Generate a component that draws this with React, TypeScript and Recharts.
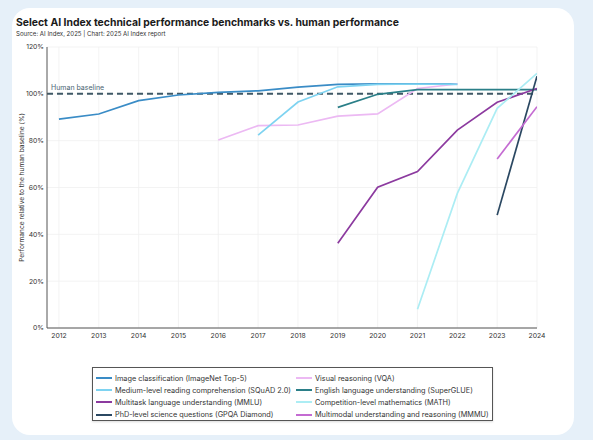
import React from 'react';
import { LineChart, Line, XAxis, YAxis, CartesianGrid, ReferenceLine } from 'recharts';

const years = [2012, 2013, 2014, 2015, 2016, 2017, 2018, 2019, 2020, 2021, 2022, 2023, 2024];
const yTicks = [0, 20, 40, 60, 80, 100, 120];

// values in % of human baseline, aligned with `years` (null = no data)
const imageNet = [89.2, 91.4, 97.1, 99.5, 100.6, 101.3, 102.9, 104.0, 104.3, 104.3, 104.2, null, null];
const vqa = [null, null, null, null, 80.3, 86.4, 86.7, 90.5, 91.4, 102.3, 104.2, null, null];
const squad = [null, null, null, null, null, 82.4, 96.5, 103.0, 104.0, 104.2, 104.0, null, null];
const superGlue = [null, null, null, null, null, null, null, 94.2, 99.8, 101.8, 101.8, 101.8, 101.8];
const mmlu = [null, null, null, null, null, null, null, 36.2, 60.1, 66.8, 84.5, 96.4, 102.3];
const mathBench = [null, null, null, null, null, null, null, null, null, 8.0, 57.5, 93.8, 108.7];
const gpqa = [null, null, null, null, null, null, null, null, null, null, null, 48.2, 107.5];
const mmmu = [null, null, null, null, null, null, null, null, null, null, null, 72.2, 94.5];

const seriesNames = [
  'Image classification (ImageNet Top-5)',
  'Visual reasoning (VQA)',
  'Medium-level reading comprehension (SQuAD 2.0)',
  'English language understanding (SuperGLUE)',
  'Multitask language understanding (MMLU)',
  'Competition-level mathematics (MATH)',
  'PhD-level science questions (GPQA Diamond)',
  'Multimodal understanding and reasoning (MMMU)',
];
const seriesValues = [imageNet, vqa, squad, superGlue, mmlu, mathBench, gpqa, mmmu];
const seriesColors = ['#3a8cc6', '#ecb9f3', '#7ed3f1', '#2b7f88', '#8c3a9f', '#acedf4', '#2b4862', '#c46bd2'];
const seriesKeys = ['imageNet', 'vqa', 'squad', 'superGlue', 'mmlu', 'math', 'gpqa', 'mmmu'];

// legend order: column 1 then column 2
const legendOrder = [0, 2, 4, 6, 1, 3, 5, 7];

const data = years.map((year, i) => {
  const row: Record<string, number | null> = { year };
  seriesKeys.forEach((k, s) => {
    row[k] = seriesValues[s][i];
  });
  return row;
});

const FONT = 'Inter, "Noto Sans", sans-serif';

export default function App() {
  return (
    <div style={{ position: 'absolute', left: 0, top: 0, width: 593, height: 440, background: '#e6f0f9', overflow: 'hidden', fontFamily: FONT }}>
      <div style={{ position: 'absolute', left: 12, top: 8, width: 562, height: 427, background: '#ffffff', borderRadius: 18 }} />
      <div style={{ position: 'absolute', left: 16, top: 16, fontSize: 10.4, fontWeight: 700, color: '#1a1a1a', whiteSpace: 'nowrap', lineHeight: '13px' }}>
        Select AI Index technical performance benchmarks vs. human performance
      </div>
      <div style={{ position: 'absolute', left: 16, top: 30, fontSize: 6.1, color: '#333', whiteSpace: 'nowrap', lineHeight: '7px' }}>
        Source: AI Index, 2025 | Chart: 2025 AI Index report
      </div>
      <div style={{ position: 'absolute', left: 0, top: 0 }}>
        <LineChart width={593} height={440} data={data} margin={{ top: 47, right: 56, bottom: 92, left: 17 }}>
          <CartesianGrid stroke="#f0f0f0" strokeWidth={0.8} verticalValues={years} />
          <XAxis
            dataKey="year"
            type="number"
            domain={[2011.7, 2024]}
            ticks={years}
            tickSize={0}
            tickMargin={5}
            height={20}
            allowDataOverflow
            stroke="#555"
            strokeWidth={1}
            tick={{ fontSize: 6.8, fill: '#333', fontFamily: FONT }}
          />
          <YAxis
            type="number"
            domain={[0, 120]}
            ticks={yTicks}
            width={30}
            tickSize={0}
            tickMargin={3}
            stroke="#555"
            strokeWidth={1}
            tickFormatter={(v: number) => `${v}%`}
            tick={{ fontSize: 6.8, fill: '#333', fontFamily: FONT }}
            label={{
              value: 'Performance relative to the human baseline (%)',
              angle: -90,
              position: 'insideLeft',
              offset: 5,
              style: { textAnchor: 'middle', fontSize: 6.6, fill: '#333', fontFamily: FONT },
            }}
          />
          <ReferenceLine
            y={100}
            stroke="#3f5866"
            strokeWidth={2}
            strokeDasharray="6 4"
            label={{ value: 'Human baseline', position: 'insideBottomLeft', offset: 4, style: { fontSize: 7, fill: '#4a6572', fontFamily: FONT } }}
          />
          {seriesKeys.map((k, s) => (
            <Line
              key={k}
              dataKey={k}
              name={seriesNames[s]}
              stroke={seriesColors[s]}
              strokeWidth={1.7}
              dot={false}
              activeDot={false}
              type="linear"
              isAnimationActive={false}
            />
          ))}
        </LineChart>
      </div>
      <div
        style={{
          position: 'absolute',
          left: 92,
          top: 367,
          width: 399,
          height: 52,
          border: '1px solid #555',
          background: '#fff',
          boxShadow: '0 1px 2px rgba(0,0,0,0.15)',
        }}
      >
        {legendOrder.map((s, i) => {
          const col = Math.floor(i / 4);
          const row = i % 4;
          return (
            <div
              key={s}
              style={{
                position: 'absolute',
                left: col === 0 ? 3 : 203,
                top: 4 + row * 12.2,
                height: 12,
                display: 'flex',
                alignItems: 'center',
                whiteSpace: 'nowrap',
                fontSize: 7.3,
                color: '#333',
              }}
            >
              <span style={{ display: 'inline-block', width: 16, height: 2, background: seriesColors[s], marginRight: 3 }} />
              {seriesNames[s]}
            </div>
          );
        })}
      </div>
    </div>
  );
}
